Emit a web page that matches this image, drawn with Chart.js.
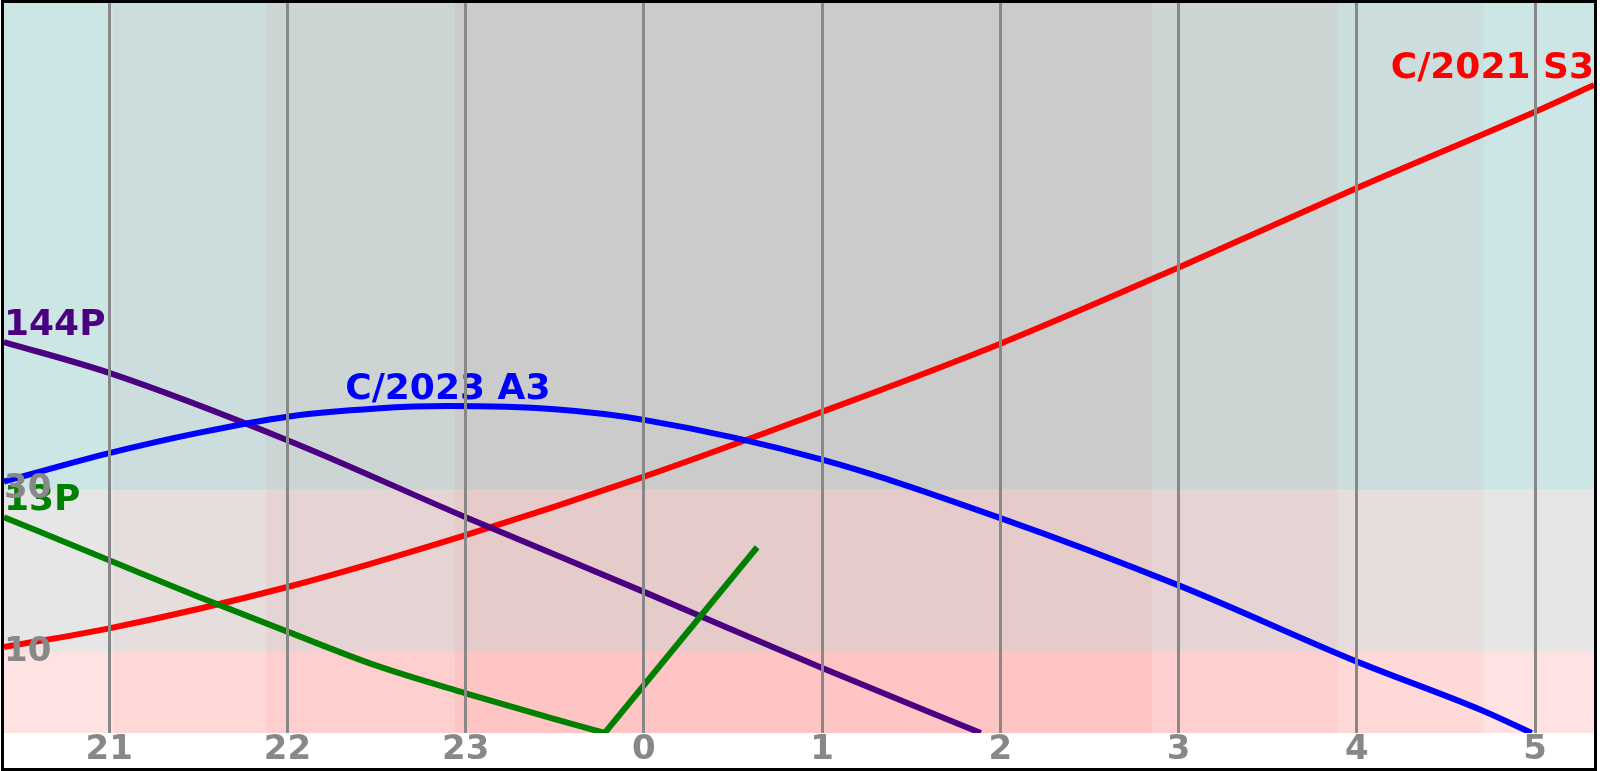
<!DOCTYPE html>
<html><head><meta charset="utf-8">
<script src="https://cdn.jsdelivr.net/npm/chart.js@4/dist/chart.umd.min.js"></script>
<style>html,body{margin:0;padding:0;background:#fff}#wrap{width:1600px;height:771px;position:relative}</style>
</head><body><div id="wrap"><canvas id="c"></canvas></div>
<script>
// ---- data (hours are continuous: 24 = 0h, 25 = 1h, ...) ----
const xTickHours = [21, 22, 23, 24, 25, 26, 27, 28, 29];
const yTickValues = [10, 30];
const xMinHour = 20.41;
const xMaxHour = 29.33;
// twilight bands (start, end) in hours: civil, nautical, astronomical
const twilightBands = [[21.02, 28.71], [21.88, 27.89], [22.94, 26.85]];
// altitude bands (degrees)
const altitudeBands = [[0, 10], [10, 30], [30, 90]];

const s3Label = "C/2021 S3";
const s3Hours = [20.41, 21, 22, 23, 24, 25, 26, 27, 28, 29, 29.33];
const s3Alt   = [10.6, 12.9, 18.0, 24.4, 31.6, 39.6, 48.0, 57.4, 67.2, 76.6, 79.9];

const p144Label = "144P";
const p144Hours = [20.41, 21, 22, 23, 24, 25, 25.89];
const p144Alt   = [48.2, 44.4, 36.1, 26.6, 17.4, 8.0, 0];

const a3Label = "C/2023 A3";
const a3Hours = [20.41, 21, 21.5, 22, 22.5, 22.9, 23.5, 24, 25, 26, 27, 28, 28.7, 28.98];
const a3Alt   = [31.0, 34.5, 37.0, 39.0, 40.0, 40.3, 39.9, 38.6, 33.7, 26.5, 18.2, 8.8, 2.8, 0];

const p13Label = "13P";
const p13Hours = [20.41, 21, 21.5, 22, 22.5, 23, 23.5, 23.78, 24.635];
const p13Alt   = [26.6, 21.3, 16.8, 12.5, 8.3, 4.9, 1.7, 0, 22.9];

function pts(h, a) { return h.map((v, i) => ({ x: v, y: a[i] })); }

// 13P: smooth descent to the horizon, then a straight segment (sparse samples)
const p13MinIdx = p13Alt.indexOf(Math.min(...p13Alt));
const p13Descent = pts(p13Hours.slice(0, p13MinIdx + 1), p13Alt.slice(0, p13MinIdx + 1));
const p13Rise = pts(p13Hours.slice(p13MinIdx), p13Alt.slice(p13MinIdx));

const FONT = '"DejaVu Sans", "Liberation Sans", sans-serif';

const bandPlugin = {
  id: 'bands',
  beforeDraw(chart) {
    const { ctx, chartArea: ar, scales: { x, y } } = chart;
    ctx.save();
    ctx.fillStyle = '#ffffff';
    ctx.fillRect(ar.left, ar.top, ar.right - ar.left, ar.bottom - ar.top);
    ctx.beginPath(); ctx.rect(ar.left, ar.top, ar.right - ar.left, ar.bottom - ar.top); ctx.clip();
    twilightBands.forEach(b => {
      const x0 = x.getPixelForValue(b[0]), x1 = x.getPixelForValue(b[1]);
      ctx.fillStyle = 'rgba(255,0,0,0.045)';
      ctx.fillRect(x0, ar.top, x1 - x0, ar.bottom - ar.top);
    });
    const hc = ['rgba(255,0,0,0.115)', 'rgba(128,128,128,0.2)', 'rgba(0,128,128,0.2)'];
    altitudeBands.forEach((b, i) => {
      const y0 = y.getPixelForValue(b[1]), y1 = y.getPixelForValue(b[0]);
      ctx.fillStyle = hc[i];
      ctx.fillRect(ar.left, y0, ar.right - ar.left, y1 - y0);
    });
    ctx.restore();
  }
};

const labelPlugin = {
  id: 'curveLabels',
  afterDatasetsDraw(chart) {
    const { ctx, chartArea: ar } = chart;
    ctx.save();
    ctx.font = 'bold 36px ' + FONT;
    ctx.textBaseline = 'alphabetic';
    ctx.textAlign = 'left';
    chart.data.datasets.forEach((ds, di) => {
      if (ds.noLabel) return;
      const meta = chart.getDatasetMeta(di);
      let best = 0;
      ds.data.forEach((p, i) => { if (p.y > ds.data[best].y) best = i; });
      const el = meta.data[best];
      const w = ctx.measureText(ds.label).width;
      let tx = el.x - w / 2;
      tx = Math.max(ar.left, Math.min(ar.right - w, tx));
      ctx.fillStyle = ds.borderColor;
      ctx.fillText(ds.label, tx, el.y - 7);
    });
    ctx.restore();
  }
};

const borderPlugin = {
  id: 'frame',
  afterDraw(chart) {
    const ctx = chart.ctx;
    ctx.save();
    ctx.strokeStyle = '#000';
    ctx.lineWidth = 3;
    ctx.strokeRect(2.5, 1.5, 1593, 768);
    ctx.restore();
  }
};

new Chart(document.getElementById('c'), {
  type: 'line',
  data: {
    datasets: [
      { label: p13Label, data: p13Descent, borderColor: '#008000' },
      { label: p13Label, data: p13Rise, borderColor: '#008000', tension: 0, cubicInterpolationMode: 'default', noLabel: true },
      { label: a3Label, data: pts(a3Hours, a3Alt), borderColor: '#0000ff' },
      { label: p144Label, data: pts(p144Hours, p144Alt), borderColor: '#4b0082' },
      { label: s3Label, data: pts(s3Hours, s3Alt), borderColor: '#ff0000' }
    ]
  },
  options: {
    responsive: true,
    maintainAspectRatio: false,
    animation: false,
    events: [],
    layout: { padding: { left: 4, right: 6, top: 3, bottom: 3 } },
    plugins: { legend: { display: false }, tooltip: { enabled: false } },
    elements: {
      point: { radius: 0 },
      line: { borderWidth: 6, cubicInterpolationMode: 'monotone', fill: false }
    },
    scales: {
      x: {
        type: 'linear', min: xMinHour, max: xMaxHour,
        afterBuildTicks: s => { s.ticks = xTickHours.map(v => ({ value: v })); },
        afterFit: s => { s.height = 35; s.paddingLeft = 0; s.paddingRight = 0; s.paddingTop = 0; s.paddingBottom = 0; },
        grid: { color: '#888888', lineWidth: 3, drawTicks: false, z: 1 },
        border: { display: false },
        ticks: {
          color: '#888888', padding: 0, maxRotation: 0, autoSkip: false,
          font: { family: FONT, weight: 'bold', size: 34, lineHeight: 1 },
          callback: v => String(v % 24)
        }
      },
      y: {
        type: 'linear', min: 0, max: 90,
        afterBuildTicks: s => { s.ticks = yTickValues.map(v => ({ value: v })); },
        afterFit: s => { s.width = 0; s.paddingTop = 0; s.paddingBottom = 0; s.paddingLeft = 0; s.paddingRight = 0; },
        grid: { display: false, drawTicks: false },
        border: { display: false },
        ticks: {
          mirror: true, padding: 0, z: 2, color: '#888888',
          font: { family: FONT, weight: 'bold', size: 34, lineHeight: 1 },
          callback: v => String(v)
        }
      }
    }
  },
  plugins: [bandPlugin, labelPlugin, borderPlugin]
});
</script>
</body></html>
